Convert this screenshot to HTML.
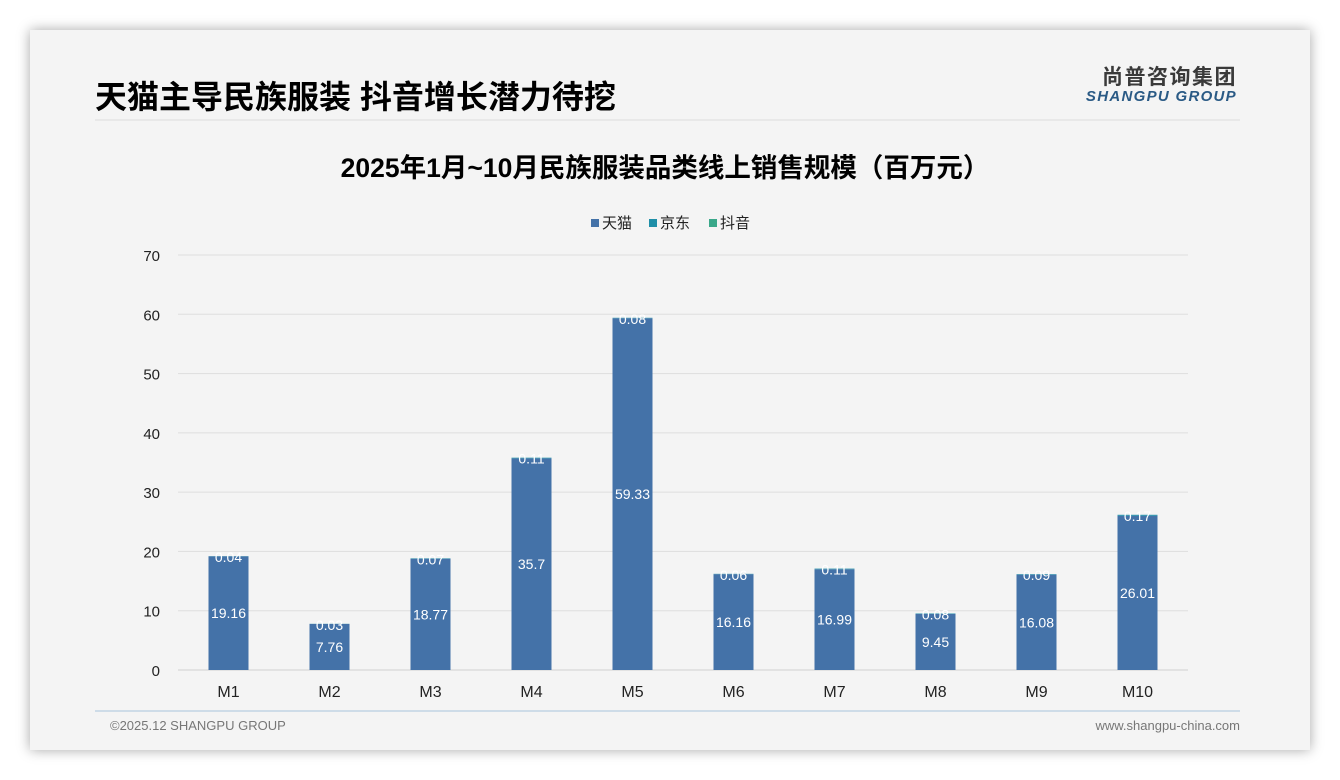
<!DOCTYPE html>
<html><head><meta charset="utf-8">
<style>
body{margin:0;width:1340px;height:780px;background:#fff;overflow:hidden;font-family:"Liberation Sans","Noto Sans CJK SC",sans-serif;}
#card{position:absolute;left:30px;top:30px;width:1280px;height:720px;background:#f4f4f4;box-shadow:0 0 12px rgba(0,0,0,0.35);}
svg{position:absolute;left:0;top:0;}
</style></head><body>
<div id="card"></div>
<svg id="chart" width="1340" height="780">
  <text x="95" y="108" font-size="32" font-weight="bold" fill="#000">天猫主导民族服装 抖音增长潜力待挖</text>
  <line x1="95" y1="120" x2="1240" y2="120" stroke="#dcdcdc" stroke-width="1"/>
  <text x="1237" y="84" font-size="21" font-weight="bold" fill="#3a3a3a" text-anchor="end" letter-spacing="1.5">尚普咨询集团</text>
  <text x="1237" y="101" font-size="15" font-weight="bold" font-style="italic" fill="#2a5a85" text-anchor="end" letter-spacing="1.3">SHANGPU GROUP</text>
  <text x="665" y="177" font-size="26.5" font-weight="bold" fill="#000" text-anchor="middle">2025年1月~10月民族服装品类线上销售规模（百万元）</text>
  <g font-size="15" fill="#222">
    <rect x="591" y="219" width="8" height="8" fill="#4472a8"/>
    <text x="602" y="228">天猫</text>
    <rect x="649" y="219" width="8" height="8" fill="#1f8fa8"/>
    <text x="660" y="228">京东</text>
    <rect x="709" y="219" width="8" height="8" fill="#3aa88a"/>
    <text x="720" y="228">抖音</text>
  </g>
  <g id="grid"></g><g id="bars"></g><g id="labels"></g>
  <line x1="95" y1="711" x2="1240" y2="711" stroke="#a9c4dc" stroke-width="1"/>
  <text x="110" y="730" font-size="13" fill="#777">©2025.12 SHANGPU GROUP</text>
  <text x="1240" y="730" font-size="13" fill="#777" text-anchor="end">www.shangpu-china.com</text>
</svg>
<script>
const categories=["M1","M2","M3","M4","M5","M6","M7","M8","M9","M10"];
const tmall=[19.16,7.76,18.77,35.7,59.33,16.16,16.99,9.45,16.08,26.01];
const jd=[0.04,0.03,0.07,0.11,0.08,0.06,0.11,0.08,0.09,0.17];
const douyin=[0,0,0,0,0,0,0,0,0,0];
const yTicks=[0,10,20,30,40,50,60,70];
const NS="http://www.w3.org/2000/svg";
const x0=178,x1=1188,y0=670,yTop=255,yMax=70;
const y=v=>y0-(v/yMax)*(y0-yTop);
const band=(x1-x0)/categories.length;
const xc=i=>x0+band*(i+0.5);
const bw=40;
function mk(tag,attrs,parent,text){const e=document.createElementNS(NS,tag);for(const k in attrs)e.setAttribute(k,attrs[k]);if(text!==undefined)e.textContent=text;document.getElementById(parent).appendChild(e);return e;}
yTicks.forEach(t=>{
  const l=mk('line',{x1:x0,x2:x1,y1:y(t),y2:y(t),stroke:t===0?'#cfcfcf':'#dedede','stroke-width':1},'grid');
  
  
  const tx=mk('text',{x:160,y:y(t)+6,'font-size':15,fill:'#222','text-anchor':'end'},'grid',String(t));
  
  
});
categories.forEach((c,i)=>{
  const cx=xc(i);
  const b1=mk('rect',{x:cx-bw/2,y:y(tmall[i]),width:bw,height:y(0)-y(tmall[i]),fill:'#4472a8'},'bars');
  
  
  const b2=mk('rect',{x:cx-bw/2,y:y(tmall[i]+jd[i]),width:bw,height:y(tmall[i])-y(tmall[i]+jd[i]),fill:'#1f8fa8'},'bars');
  
  
  const b3=mk('rect',{x:cx-bw/2,y:y(tmall[i]+jd[i]+douyin[i]),width:bw,height:y(tmall[i]+jd[i])-y(tmall[i]+jd[i]+douyin[i]),fill:'#3aa88a'},'bars');
  
  
  const l1=mk('text',{x:cx,y:(y(0)+y(tmall[i]))/2+5,'font-size':14,fill:'#fff','text-anchor':'middle'},'labels',String(tmall[i]));
  
  
  const l2=mk('text',{x:cx,y:y(tmall[i]+jd[i])+6,'font-size':14,fill:'#fff','text-anchor':'middle'},'labels',String(jd[i]));
  
  
  const xl=mk('text',{x:cx,y:697,'font-size':16,fill:'#222','text-anchor':'middle'},'labels',c);
  
  
});
</script>
</body></html>
